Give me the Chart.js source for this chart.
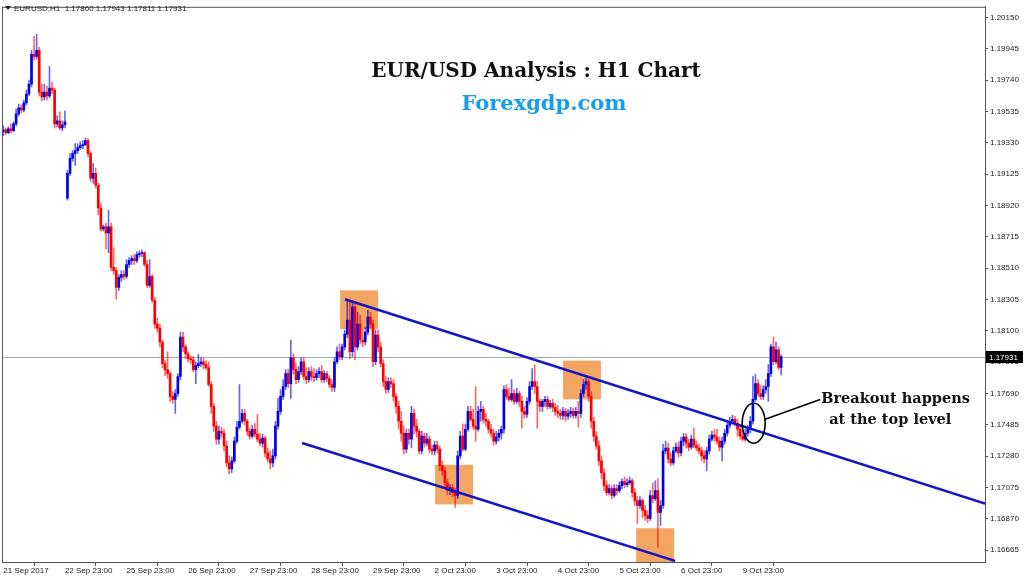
<!DOCTYPE html>
<html>
<head>
<meta charset="utf-8">
<title>EUR/USD Analysis : H1 Chart</title>
<script src="https://cdn.jsdelivr.net/npm/chart.js@4.4.0/dist/chart.umd.min.js"></script>
<style>
  html, body { margin: 0; padding: 0; background: #fff; }
  #wrap { width: 1024px; height: 578px; }
</style>
</head>
<body>
<div id="wrap"><canvas id="myChart" width="1024" height="578"></canvas></div>
<script>
// EURUSD H1, one candle per hour, 21 Sep 2017 -> 10 Oct 2017
const openP = [
  1.19403,1.19416,1.19397,1.19423,1.19410,1.19455,1.19520,1.19559,1.19546,1.19592,
  1.19650,1.19715,1.19910,1.19897,1.19936,1.19663,1.19631,1.19663,1.19637,1.19689,
  1.19676,1.19455,1.19475,1.19429,1.19449,1.18969,1.19131,1.19229,1.19261,1.19280,
  1.19299,1.19312,1.19319,1.19345,1.19261,1.19099,1.19131,1.19053,1.18904,1.18767,
  1.18780,1.18741,1.18780,1.18515,1.18495,1.18385,1.18450,1.18469,1.18456,1.18534,
  1.18560,1.18573,1.18560,1.18599,1.18606,1.18612,1.18534,1.18398,1.18456,1.18300,
  1.18144,1.18118,1.18027,1.17885,1.17846,1.17820,1.17671,1.17651,1.17690,1.17801,
  1.18060,1.17995,1.17950,1.17918,1.17911,1.17846,1.17872,1.17885,1.17898,1.17879,
  1.17859,1.17749,1.17606,1.17476,1.17391,1.17443,1.17430,1.17346,1.17236,1.17197,
  1.17249,1.17378,1.17469,1.17508,1.17560,1.17508,1.17443,1.17411,1.17456,1.17424,
  1.17391,1.17365,1.17398,1.17301,1.17262,1.17236,1.17282,1.17476,1.17573,1.17671,
  1.17736,1.17820,1.17755,1.17924,1.17846,1.17781,1.17833,1.17898,1.17801,1.17781,
  1.17833,1.17801,1.17794,1.17820,1.17833,1.17781,1.17820,1.17788,1.17749,1.17729,
  1.17898,1.17963,1.17931,1.17995,1.18079,1.18170,1.17963,1.18255,1.17995,1.18144,
  1.18040,1.18027,1.18092,1.18190,1.18144,1.17898,1.18073,1.17995,1.17885,1.17768,
  1.17716,1.17768,1.17755,1.17671,1.17606,1.17508,1.17430,1.17326,1.17430,1.17391,
  1.17560,1.17476,1.17443,1.17314,1.17411,1.17365,1.17391,1.17326,1.17314,1.17352,
  1.17326,1.17217,1.17184,1.17106,1.17054,1.17074,1.17041,1.17022,1.17282,1.17411,
  1.17326,1.17456,1.17573,1.17521,1.17476,1.17456,1.17573,1.17586,1.17521,1.17508,
  1.17456,1.17430,1.17378,1.17404,1.17430,1.17456,1.17716,1.17671,1.17651,1.17690,
  1.17638,1.17690,1.17638,1.17573,1.17554,1.17638,1.17736,1.17768,1.17736,1.17638,
  1.17606,1.17638,1.17651,1.17606,1.17625,1.17599,1.17573,1.17560,1.17547,1.17573,
  1.17541,1.17560,1.17573,1.17547,1.17573,1.17560,1.17690,1.17749,1.17768,1.17671,
  1.17508,1.17411,1.17346,1.17249,1.17171,1.17087,1.17041,1.17067,1.17022,1.17067,
  1.17054,1.17087,1.17113,1.17093,1.17106,1.17119,1.17041,1.16989,1.16957,1.16989,
  1.16924,1.16892,1.16872,1.17022,1.17002,1.17054,1.16911,1.16957,1.17314,1.17333,
  1.17262,1.17236,1.17314,1.17339,1.17301,1.17378,1.17404,1.17365,1.17339,1.17391,
  1.17352,1.17333,1.17314,1.17282,1.17262,1.17314,1.17391,1.17417,1.17404,1.17378,
  1.17339,1.17378,1.17430,1.17482,1.17508,1.17521,1.17495,1.17456,1.17411,1.17391,
  1.17430,1.17456,1.17508,1.17651,1.17755,1.17690,1.17671,1.17716,1.17736,1.17820,
  1.17995,1.17898,1.17975,1.17860
];
const highP = [
  1.19442,1.19429,1.19436,1.19455,1.19468,1.19553,1.19585,1.19579,1.19611,1.19676,
  1.19741,1.19936,1.20027,1.20040,1.19956,1.19715,1.19715,1.19702,1.19832,1.19728,
  1.19689,1.19507,1.19533,1.19475,1.19540,1.19151,1.19261,1.19280,1.19325,1.19325,
  1.19338,1.19345,1.19364,1.19358,1.19273,1.19196,1.19164,1.19066,1.18936,1.18793,
  1.18806,1.18891,1.18806,1.18644,1.18515,1.18469,1.18495,1.18495,1.18567,1.18580,
  1.18593,1.18599,1.18618,1.18624,1.18631,1.18618,1.18560,1.18567,1.18469,1.18320,
  1.18183,1.18144,1.18040,1.17911,1.17963,1.17833,1.17703,1.17716,1.17820,1.18092,
  1.18092,1.18008,1.17963,1.17937,1.17931,1.17898,1.17944,1.17924,1.17918,1.17905,
  1.17898,1.17768,1.17625,1.17508,1.17476,1.17469,1.17456,1.17378,1.17282,1.17275,
  1.17404,1.17508,1.17749,1.17586,1.17586,1.17521,1.17463,1.17482,1.17495,1.17554,
  1.17430,1.17424,1.17411,1.17333,1.17314,1.17326,1.17508,1.17658,1.17716,1.17781,
  1.17846,1.17846,1.18040,1.17950,1.17885,1.17866,1.17924,1.17924,1.17859,1.17859,
  1.17866,1.17853,1.17846,1.17859,1.17872,1.17840,1.17833,1.17807,1.17781,1.17924,
  1.17995,1.18014,1.18014,1.18105,1.18307,1.18287,1.18287,1.18287,1.18222,1.18203,
  1.18112,1.18125,1.18235,1.18222,1.18170,1.18105,1.18105,1.18027,1.17911,1.17801,
  1.17794,1.17794,1.17781,1.17690,1.17638,1.17573,1.17476,1.17456,1.17456,1.17606,
  1.17586,1.17521,1.17456,1.17443,1.17430,1.17430,1.17411,1.17352,1.17378,1.17378,
  1.17346,1.17249,1.17210,1.17132,1.17093,1.17093,1.17067,1.17314,1.17443,1.17489,
  1.17489,1.17606,1.17606,1.17586,1.17736,1.17606,1.17638,1.17606,1.17560,1.17521,
  1.17489,1.17456,1.17443,1.17456,1.17476,1.17742,1.17749,1.17723,1.17781,1.17716,
  1.17723,1.17703,1.17671,1.17606,1.17664,1.17768,1.17853,1.17879,1.17768,1.17651,
  1.17651,1.17671,1.17671,1.17645,1.17651,1.17625,1.17612,1.17586,1.17599,1.17593,
  1.17586,1.17599,1.17593,1.17599,1.17638,1.17716,1.17781,1.17807,1.17794,1.17703,
  1.17534,1.17443,1.17378,1.17282,1.17197,1.17119,1.17093,1.17087,1.17093,1.17093,
  1.17113,1.17132,1.17145,1.17132,1.17145,1.17132,1.17067,1.17015,1.17015,1.17002,
  1.16957,1.16924,1.17054,1.17106,1.17119,1.17132,1.16989,1.17359,1.17378,1.17365,
  1.17301,1.17339,1.17365,1.17372,1.17404,1.17430,1.17430,1.17391,1.17417,1.17463,
  1.17378,1.17359,1.17339,1.17314,1.17339,1.17417,1.17443,1.17456,1.17456,1.17404,
  1.17404,1.17456,1.17508,1.17534,1.17547,1.17541,1.17521,1.17482,1.17456,1.17456,
  1.17482,1.17541,1.17801,1.17814,1.17781,1.17742,1.17742,1.17781,1.17879,1.18014,
  1.18060,1.18027,1.17995,1.17943
];
const lowP = [
  1.19377,1.19384,1.19390,1.19397,1.19403,1.19442,1.19507,1.19527,1.19533,1.19579,
  1.19637,1.19696,1.19871,1.19878,1.19637,1.19605,1.19611,1.19611,1.19624,1.19650,
  1.19429,1.19436,1.19416,1.19410,1.19429,1.18956,1.19118,1.19209,1.19183,1.19261,
  1.19286,1.19293,1.19312,1.19242,1.19079,1.19066,1.19034,1.18858,1.18754,1.18754,
  1.18637,1.18612,1.18495,1.18469,1.18307,1.18365,1.18424,1.18437,1.18443,1.18515,
  1.18534,1.18534,1.18547,1.18580,1.18586,1.18521,1.18385,1.18385,1.18287,1.18118,
  1.18092,1.17995,1.17859,1.17807,1.17788,1.17638,1.17625,1.17560,1.17671,1.17781,
  1.17963,1.17918,1.17898,1.17885,1.17833,1.17755,1.17859,1.17866,1.17853,1.17846,
  1.17736,1.17560,1.17443,1.17359,1.17359,1.17404,1.17314,1.17210,1.17165,1.17171,
  1.17236,1.17365,1.17456,1.17495,1.17482,1.17417,1.17391,1.17398,1.17404,1.17372,
  1.17346,1.17339,1.17275,1.17243,1.17197,1.17210,1.17262,1.17456,1.17554,1.17651,
  1.17716,1.17729,1.17658,1.17820,1.17755,1.17762,1.17814,1.17781,1.17755,1.17762,
  1.17775,1.17768,1.17775,1.17794,1.17762,1.17762,1.17768,1.17729,1.17703,1.17703,
  1.17885,1.17911,1.17911,1.17975,1.18053,1.17918,1.17931,1.17911,1.17975,1.18014,
  1.17995,1.18008,1.18073,1.18118,1.17866,1.17879,1.17963,1.17866,1.17736,1.17690,
  1.17697,1.17729,1.17638,1.17560,1.17456,1.17378,1.17295,1.17301,1.17359,1.17333,
  1.17424,1.17404,1.17295,1.17295,1.17339,1.17346,1.17301,1.17288,1.17288,1.17301,
  1.17184,1.17152,1.17074,1.17028,1.17028,1.17015,1.16944,1.17002,1.17262,1.17314,
  1.17314,1.17443,1.17508,1.17456,1.17378,1.17443,1.17508,1.17495,1.17476,1.17430,
  1.17404,1.17352,1.17359,1.17378,1.17391,1.17430,1.17651,1.17638,1.17638,1.17619,
  1.17625,1.17606,1.17463,1.17528,1.17534,1.17619,1.17716,1.17690,1.17463,1.17573,
  1.17573,1.17606,1.17586,1.17593,1.17573,1.17547,1.17534,1.17521,1.17521,1.17508,
  1.17521,1.17534,1.17528,1.17528,1.17469,1.17534,1.17671,1.17716,1.17638,1.17463,
  1.17378,1.17326,1.17217,1.17132,1.17054,1.17022,1.17028,1.17002,1.17009,1.17028,
  1.17041,1.17067,1.17074,1.17080,1.17093,1.17009,1.16957,1.16840,1.16937,1.16879,
  1.16859,1.16846,1.16859,1.16976,1.16989,1.16684,1.16827,1.16937,1.17295,1.17236,
  1.17217,1.17223,1.17301,1.17275,1.17282,1.17346,1.17333,1.17314,1.17326,1.17333,
  1.17314,1.17295,1.17249,1.17236,1.17184,1.17295,1.17378,1.17378,1.17359,1.17314,
  1.17249,1.17359,1.17411,1.17463,1.17489,1.17476,1.17411,1.17391,1.17378,1.17378,
  1.17411,1.17430,1.17489,1.17638,1.17671,1.17651,1.17651,1.17690,1.17638,1.17801,
  1.17879,1.17885,1.17846,1.17811
];
const closeP = [
  1.19416,1.19397,1.19423,1.19410,1.19455,1.19520,1.19559,1.19546,1.19592,1.19650,
  1.19715,1.19910,1.19897,1.19936,1.19663,1.19631,1.19663,1.19637,1.19689,1.19676,
  1.19455,1.19475,1.19429,1.19449,1.19468,1.19131,1.19229,1.19261,1.19280,1.19299,
  1.19312,1.19319,1.19345,1.19261,1.19099,1.19131,1.19053,1.18904,1.18767,1.18780,
  1.18741,1.18780,1.18515,1.18495,1.18385,1.18450,1.18469,1.18456,1.18534,1.18560,
  1.18573,1.18560,1.18599,1.18606,1.18612,1.18534,1.18398,1.18456,1.18300,1.18144,
  1.18118,1.18027,1.17885,1.17846,1.17820,1.17671,1.17651,1.17690,1.17801,1.18060,
  1.17995,1.17950,1.17918,1.17911,1.17846,1.17872,1.17885,1.17898,1.17879,1.17859,
  1.17749,1.17606,1.17476,1.17391,1.17443,1.17430,1.17346,1.17236,1.17197,1.17249,
  1.17378,1.17469,1.17508,1.17560,1.17508,1.17443,1.17411,1.17456,1.17424,1.17391,
  1.17365,1.17398,1.17301,1.17262,1.17236,1.17282,1.17476,1.17573,1.17671,1.17736,
  1.17820,1.17755,1.17924,1.17846,1.17781,1.17833,1.17898,1.17801,1.17781,1.17833,
  1.17801,1.17794,1.17820,1.17833,1.17781,1.17820,1.17788,1.17749,1.17729,1.17898,
  1.17963,1.17931,1.17995,1.18079,1.18170,1.17963,1.18255,1.17995,1.18144,1.18040,
  1.18027,1.18092,1.18190,1.18144,1.17898,1.18073,1.17995,1.17885,1.17768,1.17716,
  1.17768,1.17755,1.17671,1.17606,1.17508,1.17430,1.17326,1.17430,1.17391,1.17560,
  1.17476,1.17443,1.17314,1.17411,1.17365,1.17391,1.17326,1.17314,1.17352,1.17326,
  1.17217,1.17184,1.17106,1.17054,1.17074,1.17041,1.17022,1.17282,1.17411,1.17326,
  1.17456,1.17573,1.17521,1.17476,1.17456,1.17573,1.17586,1.17521,1.17508,1.17456,
  1.17430,1.17378,1.17404,1.17430,1.17456,1.17716,1.17671,1.17651,1.17690,1.17638,
  1.17690,1.17638,1.17573,1.17554,1.17638,1.17736,1.17768,1.17736,1.17638,1.17606,
  1.17638,1.17651,1.17606,1.17625,1.17599,1.17573,1.17560,1.17547,1.17573,1.17541,
  1.17560,1.17573,1.17547,1.17573,1.17560,1.17690,1.17749,1.17768,1.17671,1.17508,
  1.17411,1.17346,1.17249,1.17171,1.17087,1.17041,1.17067,1.17022,1.17067,1.17054,
  1.17087,1.17113,1.17093,1.17106,1.17119,1.17041,1.16989,1.16957,1.16989,1.16924,
  1.16892,1.16872,1.17022,1.17002,1.17054,1.16911,1.16957,1.17314,1.17333,1.17262,
  1.17236,1.17314,1.17339,1.17301,1.17378,1.17404,1.17365,1.17339,1.17391,1.17352,
  1.17333,1.17314,1.17282,1.17262,1.17314,1.17391,1.17417,1.17404,1.17378,1.17339,
  1.17378,1.17430,1.17482,1.17508,1.17521,1.17495,1.17456,1.17411,1.17391,1.17430,
  1.17456,1.17508,1.17651,1.17755,1.17690,1.17671,1.17716,1.17736,1.17820,1.17995,
  1.17898,1.17975,1.17860,1.17931
];

// x axis: one label per trading day (24 hourly bars)
const dayLabels = ['21 Sep 2017', '22 Sep 23:00', '25 Sep 23:00', '26 Sep 23:00', '27 Sep 23:00',
  '28 Sep 23:00', '29 Sep 23:00', '2 Oct 23:00', '3 Oct 23:00', '4 Oct 23:00',
  '5 Oct 23:00', '6 Oct 23:00', '9 Oct 23:00'];
const barsPerDay = 24;
const priceTicks = ['1.20150', '1.19945', '1.19740', '1.19535', '1.19330', '1.19125', '1.18920',
  '1.18715', '1.18510', '1.18305', '1.18100', '1.17895', '1.17690', '1.17485', '1.17280',
  '1.17075', '1.16870', '1.16665'];

// drawn objects, in bar index / price units
const upperChannel = [{ x: 133.1, y: 1.18307 }, { x: 382.4, y: 1.16970 }];
const lowerChannel = [{ x: 116.4, y: 1.17366 }, { x: 261.7, y: 1.16594 }];
const zones = [
  [131.2, 146.0, 1.18365, 1.18112],
  [168.2, 183.0, 1.17223, 1.16964],
  [218.0, 232.8, 1.17905, 1.17652],
  [246.5, 261.3, 1.16808, 1.16500]
];
const breakoutMark = { x: 292.3, y: 1.17495 };
const calloutEnd = { x: 318.2, y: 1.17651 };

const bull = closeP.map((c, i) => c >= openP[i]);
const wickData = closeP.map((c, i) => ({ x: i, y: [lowP[i], highP[i]] }));
const bodyData = closeP.map((c, i) => ({ x: i, y: [openP[i], closeP[i]] }));

const axisFont = { family: 'Liberation Sans', size: 8 };

const overlay = {
  id: 'overlay',
  beforeDatasetsDraw(chart) {
    const { ctx, chartArea: a, scales: { x, y } } = chart;
    ctx.save();
    ctx.beginPath();
    ctx.rect(a.left, a.top, a.right - a.left, a.bottom - a.top);
    ctx.clip();
    ctx.fillStyle = '#f3a562';
    zones.forEach(z => {
      const x0 = x.getPixelForValue(z[0]), x1 = x.getPixelForValue(z[1]);
      const y0 = y.getPixelForValue(z[2]), y1 = y.getPixelForValue(z[3]);
      ctx.fillRect(x0, y0, x1 - x0, y1 - y0);
    });
    const py = Math.round(y.getPixelForValue(closeP[closeP.length - 1])) + 0.5;
    ctx.strokeStyle = '#a4abb2';
    ctx.lineWidth = 1;
    ctx.beginPath();
    ctx.moveTo(a.left, py);
    ctx.lineTo(a.right, py);
    ctx.stroke();
    ctx.restore();
  },
  afterDatasetsDraw(chart) {
    const { ctx, chartArea: a, scales: { x, y } } = chart;
    ctx.save();
    // frame
    ctx.strokeStyle = '#555';
    ctx.lineWidth = 1;
    ctx.strokeRect(a.left + 0.5, a.top + 0.5, a.right - a.left, a.bottom - a.top);
    // breakout ellipse + callout
    const cx = x.getPixelForValue(breakoutMark.x), cy = y.getPixelForValue(breakoutMark.y);
    ctx.strokeStyle = '#000';
    ctx.lineWidth = 1.6;
    ctx.beginPath();
    ctx.ellipse(cx, cy, 11.5, 20, 0, 0, Math.PI * 2);
    ctx.stroke();
    const ex = x.getPixelForValue(calloutEnd.x), ey = y.getPixelForValue(calloutEnd.y);
    ctx.beginPath();
    ctx.moveTo(cx + 11.5, cy - 4);
    ctx.lineTo(ex, ey);
    ctx.stroke();
    ctx.fillStyle = '#111';
    ctx.font = 'bold 14.5px "DejaVu Serif"';
    ctx.textAlign = 'left';
    ctx.textBaseline = 'alphabetic';
    ctx.fillText('Breakout happens', ex + 1, ey + 4);
    ctx.fillText('at the top level', ex + 9, ey + 25);
    ctx.restore();
  },
  afterDraw(chart) {
    const { ctx, chartArea: a, scales: { y } } = chart;
    ctx.save();
    ctx.textAlign = 'center';
    ctx.fillStyle = '#111';
    ctx.font = 'bold 20px "DejaVu Serif"';
    ctx.fillText('EUR/USD Analysis : H1 Chart', 536, 77);
    ctx.fillStyle = '#1a9de8';
    ctx.font = 'bold 21px "DejaVu Serif"';
    ctx.fillText('Forexgdp.com', 544, 110);
    // header line
    const n = closeP.length - 1;
    ctx.fillStyle = '#222';
    ctx.beginPath();
    ctx.moveTo(5, 6); ctx.lineTo(11, 6); ctx.lineTo(8, 10); ctx.closePath();
    ctx.fill();
    ctx.textAlign = 'left';
    ctx.font = '8px "Liberation Sans"';
    ctx.fillText('EURUSD,H1  ' + [openP[n], highP[n], lowP[n], closeP[n]].map(v => v.toFixed(5)).join(' '), 14, 11);
    // current price tag
    const py = Math.round(y.getPixelForValue(closeP[n]));
    ctx.fillStyle = '#000';
    ctx.fillRect(a.right + 1, py - 6, 37, 12);
    ctx.fillStyle = '#fff';
    ctx.fillText(closeP[n].toFixed(5), a.right + 4, py + 3);
    ctx.restore();
  }
};

new Chart(document.getElementById('myChart'), {
  type: 'bar',
  data: {
    datasets: [
      {
        type: 'line', data: upperChannel, borderColor: '#1515c8', borderWidth: 2.5,
        pointRadius: 0, fill: false, order: 0
      },
      {
        type: 'line', data: lowerChannel, borderColor: '#1515c8', borderWidth: 2.5,
        pointRadius: 0, fill: false, order: 0
      },
      {
        data: bodyData, barThickness: 2, minBarLength: 1, grouped: false, order: 1,
        backgroundColor: bull.map(b => b ? '#0000e6' : '#ff0000')
      },
      {
        data: wickData, barThickness: 1, grouped: false, order: 2,
        backgroundColor: bull.map(b => b ? 'rgba(0,0,230,0.6)' : 'rgba(255,0,0,0.6)')
      }
    ]
  },
  options: {
    responsive: false,
    animation: false,
    layout: { padding: { left: 2, top: 2, right: 0, bottom: 0 } },
    plugins: { legend: { display: false }, tooltip: { enabled: false } },
    scales: {
      x: {
        type: 'linear', offset: false, min: -0.5, max: 382.4,
        afterBuildTicks: s => { s.ticks = dayLabels.map((d, k) => ({ value: k * barsPerDay })); },
        afterFit: s => { s.height = 16; },
        grid: { drawOnChartArea: false, drawTicks: true, tickLength: 4, color: '#555' },
        border: { display: true, color: '#555' },
        ticks: {
          autoSkip: false, maxRotation: 0, minRotation: 0, align: 'start', padding: 0,
          color: '#1a1a1a', font: axisFont,
          callback: v => dayLabels[Math.round(v / barsPerDay)]
        }
      },
      y: {
        type: 'linear', position: 'right', min: 1.16587, max: 1.20221,
        afterBuildTicks: s => { s.ticks = priceTicks.map(t => ({ value: parseFloat(t) })); },
        afterFit: s => { s.width = 39; },
        grid: { drawOnChartArea: false, drawTicks: true, tickLength: 3, color: '#555' },
        border: { display: true, color: '#555' },
        ticks: {
          padding: 2, color: '#1a1a1a', font: axisFont,
          callback: v => v.toFixed(5)
        }
      }
    }
  },
  plugins: [overlay]
});
</script>
</body>
</html>
